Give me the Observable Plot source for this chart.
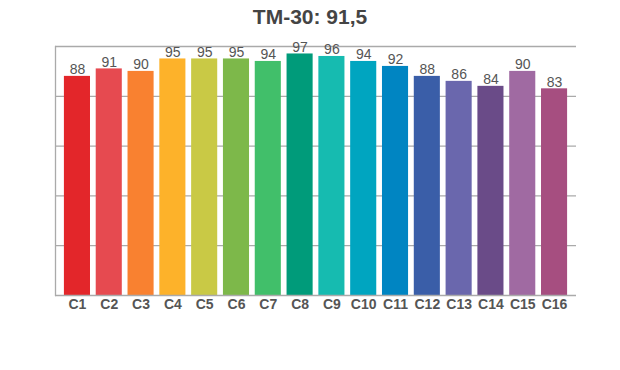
<!DOCTYPE html>
<html>
<head>
<meta charset="utf-8">
<script src="https://cdn.jsdelivr.net/npm/d3@7"></script>
<script src="https://cdn.jsdelivr.net/npm/@observablehq/plot@0.6"></script>
<style>
  html, body { margin: 0; padding: 0; background: #fff; }
  body { width: 620px; height: 370px; overflow: hidden; font-family: "Liberation Sans", Arial, sans-serif; }
  #title { height: 36px; line-height: 34px; text-align: center; font-size: 21px; font-weight: bold; color: #444; }
</style>
</head>
<body>
<div id="title">TM-30: 91,5</div>
<div id="chart"></div>
<script>
const titleText = "TM-30: 91,5";
const categories = ["C1","C2","C3","C4","C5","C6","C7","C8","C9","C10","C11","C12","C13","C14","C15","C16"];
const values = [88, 91, 90, 95, 95, 95, 94, 97, 96, 94, 92, 88, 86, 84, 90, 83];
const colors = ["#e3262a","#e64a50","#f98130","#fdb22a","#c9c945","#7db84a","#41bf6a","#009b7a",
                "#16bbb0","#00a5c0","#0085c2","#3a5ea8","#6a67ad","#6a4b88","#a06aa2","#a64e80"];
const gridValues = [20, 40, 60, 80, 100];

document.getElementById("title").textContent = titleText;
const data = categories.map((c, i) => ({cat: c, value: values[i], color: colors[i]}));

const chart = Plot.plot({
  width: 620,
  height: 334,
  marginTop: 10,
  marginBottom: 75,
  marginLeft: 55,
  marginRight: 44,
  style: {fontFamily: "Liberation Sans, Arial, sans-serif", background: "#fff"},
  x: {domain: categories, paddingInner: 0.18, paddingOuter: 0.28, round: false, label: null},
  y: {domain: [0, 100], axis: null},
  marks: [
    Plot.ruleY(gridValues, {stroke: "#aaa", strokeWidth: 1.3, strokeOpacity: 1}),
    Plot.barY(data, {x: "cat", y: "value", fill: "color"}),
    Plot.text(data, {x: "cat", y: "value", text: d => String(d.value), dy: -2, lineAnchor: "bottom",
      fontSize: 14, fill: "#555"}),
    Plot.ruleY([0], {stroke: "#aaa", strokeWidth: 1.3}),
    Plot.frame({anchor: "left", stroke: "#aaa", strokeWidth: 1.3}),
    Plot.axisX({tickSize: 0, tickPadding: 4, fontSize: 14, fontWeight: "bold", fill: "#555", label: null})
  ]
});
document.getElementById("chart").append(chart);
</script>
</body>
</html>
